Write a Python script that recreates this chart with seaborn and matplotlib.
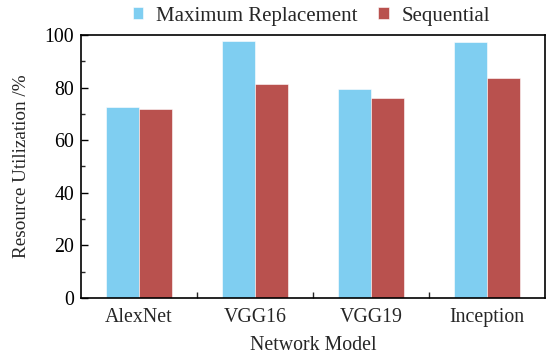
import matplotlib
matplotlib.use("Agg")
import matplotlib.pyplot as plt
import seaborn as sns
import pandas as pd
from matplotlib.ticker import MultipleLocator, FixedLocator, NullFormatter

models = ["AlexNet", "VGG16", "VGG19", "Inception"]
max_replacement = [72.7, 97.8, 79.3, 97.5]
sequential = [71.9, 81.2, 76.0, 83.5]
series_names = ["Maximum Replacement", "Sequential"]
colors = ["#7fcef1", "#b9514e"]

df = pd.DataFrame({
    "model": models * 2,
    "value": max_replacement + sequential,
    "series": [series_names[0]] * 4 + [series_names[1]] * 4,
})

sns.set_theme(style="ticks")
plt.rcParams["font.family"] = ["Liberation Serif", "DejaVu Serif"]
plt.rcParams["mathtext.fontset"] = "stix"

fig = plt.figure(figsize=(5.54, 3.55), dpi=100)
ax = fig.add_axes([0.146, 0.1606, 0.838, 0.7408])

sns.barplot(data=df, x="model", y="value", hue="series", palette=colors,
            width=0.57, saturation=1, ax=ax, edgecolor="white", linewidth=0.4)

ax.set_ylim(0, 100)
ax.set_xlim(-0.5, 3.5)
ax.yaxis.set_major_locator(MultipleLocator(20))
ax.yaxis.set_minor_locator(MultipleLocator(10))
ax.tick_params(axis="y", which="major", direction="in", length=5, width=1, labelsize=14.3, colors="black", pad=5)
ax.tick_params(axis="y", which="minor", direction="in", length=3, width=1)
ax.tick_params(axis="x", which="major", length=0, labelsize=14.3, pad=7)
ax.xaxis.set_minor_locator(FixedLocator([0.5, 1.5, 2.5]))
ax.xaxis.set_minor_formatter(NullFormatter())
ax.tick_params(axis="x", which="minor", direction="in", length=4, width=1)
for s in ax.spines.values():
    s.set_visible(True)
    s.set_linewidth(1.2)
    s.set_color("black")

ax.set_xlabel("Network Model", fontsize=14.3, labelpad=7)
ax.set_ylabel("Resource Utilization /%", fontsize=13.8, labelpad=10)

ax.legend(loc="center", bbox_to_anchor=(0.562, 0.954), bbox_transform=fig.transFigure,
          ncol=2, frameon=False,
          fontsize=15, handlelength=0.5, handleheight=0.5, columnspacing=1.0,
          handletextpad=0.6, borderaxespad=0, borderpad=0)

fig.savefig("out.png", dpi=100)
